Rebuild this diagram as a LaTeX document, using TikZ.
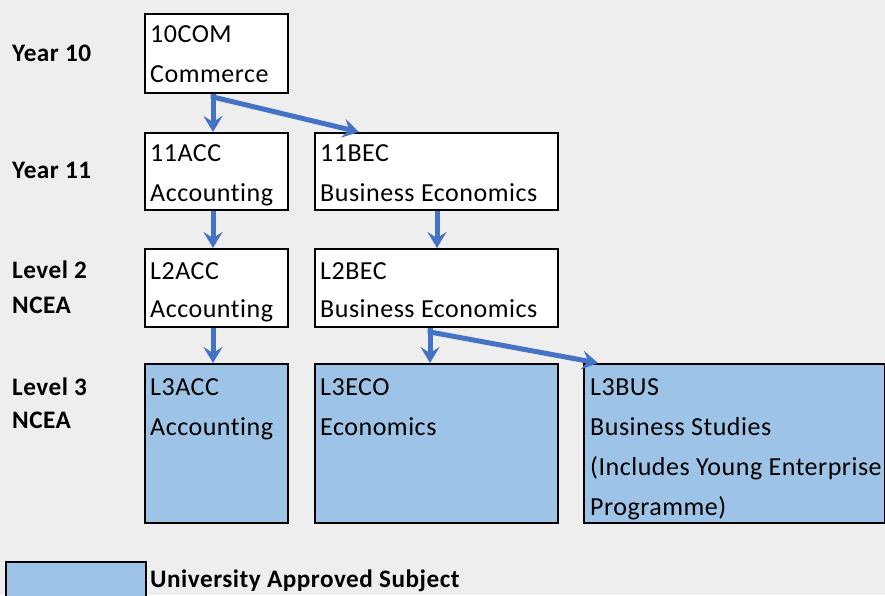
\documentclass[tikz,border=0pt]{standalone}
\usepackage{fontspec}
\setmainfont{Carlito}[LetterSpace=2,Ligatures=NoCommon]
\usetikzlibrary{arrows.meta}
\definecolor{bg}{HTML}{EEEEEE}
\definecolor{lblue}{HTML}{9DC3E6}
\definecolor{arrblue}{HTML}{4472C4}
\begin{document}
\begin{tikzpicture}[x=1pt,y=-1pt,
  box/.style={draw=black,line width=2pt,fill=white,rectangle,inner sep=0pt,anchor=north west},
  uni/.style={box,fill=lblue},
  txt/.style={inner sep=0pt,anchor=base west,font=\fontsize{26}{40}\selectfont},
  lab/.style={inner sep=0pt,anchor=base west,font=\fontsize{25.2}{34}\selectfont\bfseries},
  arr/.style={draw=arrblue,line width=5pt,-{Stealth[length=16pt,width=19pt,inset=6pt]}}]
\useasboundingbox (0,0) rectangle (885,595);
\fill[bg] (0,0) rectangle (885,595);
% row labels
\node[lab] (y10) at (12,61) {Year 10};
\node[lab] (y11) at (12,178) {Year 11};
\node[lab] (l2a) at (12,278) {Level 2};
\node[lab] (l2b) at (12,313) {NCEA};
\node[lab] (l3a) at (12,395) {Level 3};
\node[lab] (l3b) at (12,428) {NCEA};
% boxes
\node[box,minimum width=143pt,minimum height=79pt] (com10) at (144,13) {};
\node[box,minimum width=143pt,minimum height=77pt] (acc11) at (144,132) {};
\node[box,minimum width=243pt,minimum height=77pt] (bec11) at (314,132) {};
\node[box,minimum width=143pt,minimum height=78pt] (accl2) at (144,248) {};
\node[box,minimum width=243pt,minimum height=78pt] (becl2) at (314,248) {};
\node[uni,minimum width=143pt,minimum height=159pt] (accl3) at (144,363) {};
\node[uni,minimum width=243pt,minimum height=159pt] (ecol3) at (314,363) {};
\node[uni,minimum width=301pt,minimum height=159pt] (busl3) at (583,363) {};
% texts
\node[txt] (t1) at (150,42) {10COM};
\node[txt] (t2) at (150,82) {Commerce};
\node[txt] (t3) at (150,161) {11ACC};
\node[txt] (t4) at (150,201) {Accounting};
\node[txt] (t5) at (320,161) {11BEC};
\node[txt] (t6) at (320,201) {Business Economics};
\node[txt] (t7) at (150,279) {L2ACC};
\node[txt] (t8) at (150,317) {Accounting};
\node[txt] (t9) at (320,279) {L2BEC};
\node[txt] (t10) at (320,317) {Business Economics};
\node[txt] (t11) at (150,395) {L3ACC};
\node[txt] (t12) at (150,435) {Accounting};
\node[txt] (t13) at (320,395) {L3ECO};
\node[txt] (t14) at (320,435) {Economics};
\node[txt] (t15) at (590,395) {L3BUS};
\node[txt] (t16) at (590,435) {Business Studies};
\node[txt] (t17) at (590,475) {(Includes Young Enterprise};
\node[txt] (t18) at (590,515) {Programme)};
% arrows
\draw[arr] ([xshift=69pt]com10.south west) -- ([xshift=69pt]acc11.north west);
\draw[arr] ([xshift=69pt]com10.south west) -- ++(0,3) -- ([xshift=45pt]bec11.north west);
\draw[arr] ([xshift=69pt]acc11.south west) -- ([xshift=69pt]accl2.north west);
\draw[arr] ([xshift=123pt]bec11.south west) -- ([xshift=123pt]becl2.north west);
\draw[arr] ([xshift=69pt]accl2.south west) -- ([xshift=69pt]accl3.north west);
\draw[arr] ([xshift=116pt]becl2.south west) -- ([xshift=116pt]ecol3.north west);
\draw[arr] ([xshift=116pt]becl2.south west) -- ++(0,4) -- ([xshift=15pt]busl3.north west);
% legend
\node[uni,minimum width=140pt,minimum height=45pt] (leg) at (5,561) {};
\node[lab] (legt) at (150,587) {University Approved Subject};
\end{tikzpicture}
\end{document}
